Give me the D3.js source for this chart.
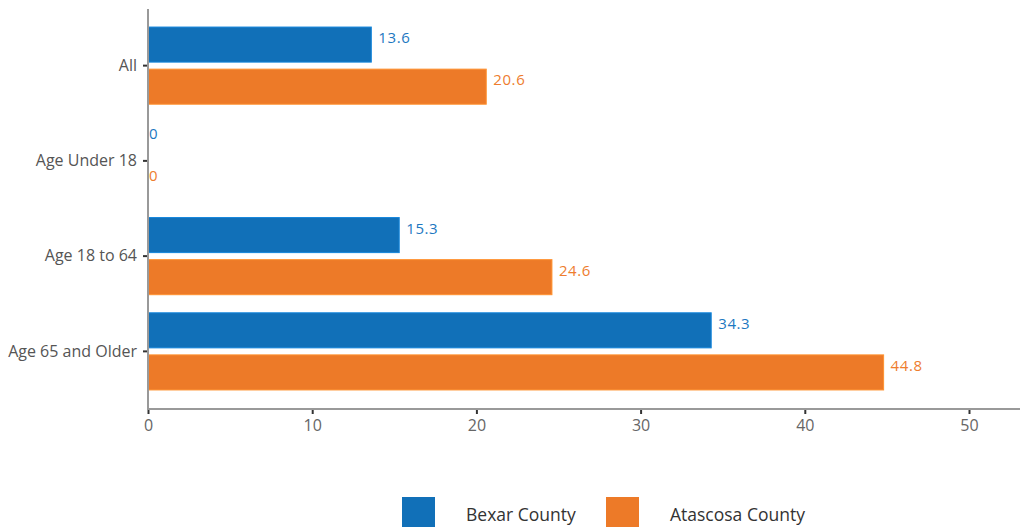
<!DOCTYPE html>
<html><head><meta charset="utf-8">
<script src="https://cdn.jsdelivr.net/npm/d3@7"></script>
<style>
body{margin:0;background:#fff;}
svg{display:block;font-family:"Open Sans",sans-serif;}
</style></head>
<body><svg id="c" width="1020" height="527"></svg>
<script>
const categories = ["All", "Age Under 18", "Age 18 to 64", "Age 65 and Older"];
const seriesNames = ["Bexar County", "Atascosa County"];
const bexar = [13.6, 0, 15.3, 34.3];
const atascosa = [20.6, 0, 24.6, 44.8];
const xTicks = [0, 10, 20, 30, 40, 50];
const colors = ["#1170b8", "#ed7a28"];
const labelColors = ["#1d78c1", "#ee7d2e"];

const svg = d3.select("#c");
const x = d3.scaleLinear().domain([0, 50]).range([148, 969]);
const y = d3.scaleBand().domain(categories).range([18, 399]).paddingInner(0.19).paddingOuter(0.095);
const ySub = d3.scaleBand().domain(seriesNames).range([0, y.bandwidth()]).paddingInner(0.167);

const values = [bexar, atascosa];
const rows = [];
categories.forEach((c, i) => seriesNames.forEach((s, j) => rows.push({c, s, j, v: values[j][i]})));

// bars
svg.append("g").selectAll("rect").data(rows).join("rect")
  .attr("x", x(0))
  .attr("y", d => y(d.c) + ySub(d.s))
  .attr("width", d => x(d.v) - x(0))
  .attr("height", ySub.bandwidth())
  .attr("fill", d => colors[d.j])
  .attr("stroke", d => d.v > 0 ? d3.color(colors[d.j]).brighter(0.5) : "none")
  .attr("stroke-width", 1);

// value labels
svg.append("g").selectAll("text").data(rows).join("text")
  .attr("x", d => x(d.v) + (d.v > 0 ? 7 : 1))
  .attr("y", d => y(d.c) + ySub(d.s) + 11)
  .attr("dy", "0.35em")
  .attr("fill", d => labelColors[d.j])
  .attr("font-size", 15)
  .attr("letter-spacing", "0.6px")
  .text(d => d.v);

// x axis
const xAxis = svg.append("g").attr("transform", "translate(0,409)")
  .call(d3.axisBottom(x).tickValues(xTicks).tickSize(5).tickSizeOuter(0).tickPadding(6));
xAxis.select(".domain").remove();
xAxis.append("line").attr("x1", 147).attr("x2", 1020).attr("y1", 0).attr("y2", 0)
  .attr("stroke", "#999").attr("stroke-width", 2);
xAxis.selectAll(".tick line").attr("stroke", "#333").attr("stroke-width", 2);
xAxis.selectAll(".tick text").attr("fill", "#666").attr("font-size", 16).attr("font-family", "Open Sans");

// y axis
const yAxis = svg.append("g").attr("transform", "translate(148,0)")
  .call(d3.axisLeft(y).tickSize(5).tickSizeOuter(0).tickPadding(6));
yAxis.select(".domain").remove();
yAxis.append("line").attr("x1", 0).attr("x2", 0).attr("y1", 9).attr("y2", 410)
  .attr("stroke", "#999").attr("stroke-width", 2);
yAxis.selectAll(".tick line").attr("stroke", "#333").attr("stroke-width", 2);
yAxis.selectAll(".tick text").attr("fill", "#555").attr("font-size", 16).attr("font-family", "Open Sans");

// legend
const legendX = [402, 606];
const lg = svg.append("g").selectAll("g").data(seriesNames).join("g")
  .attr("transform", (d, i) => `translate(${legendX[i]},497)`);
lg.append("rect").attr("width", 33).attr("height", 32).attr("fill", (d, i) => colors[i]);
lg.append("text").attr("x", 64).attr("y", 24).attr("font-size", 17.5).attr("fill", "#333").text(d => d);
</script></body></html>
